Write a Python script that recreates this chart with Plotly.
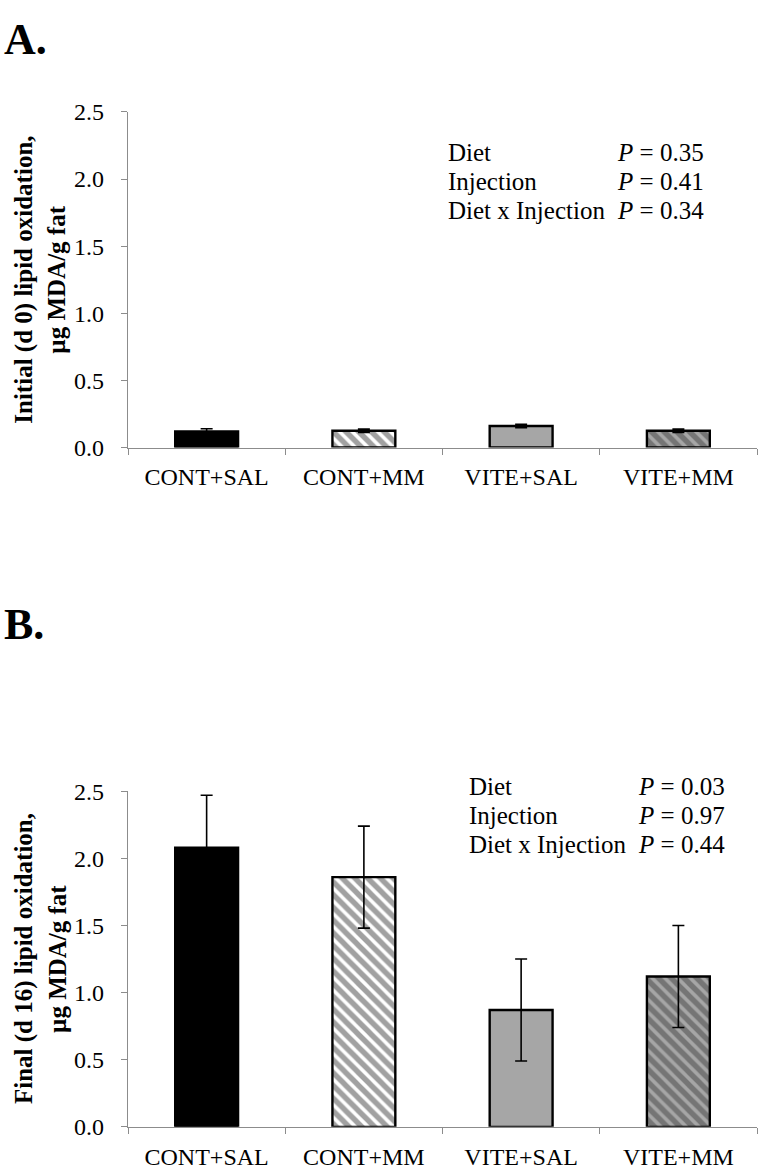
import plotly.graph_objects as go

W, H = 760, 1181
# the screenshot maps page y to picture y as 12 + 0.979 * y; place items in picture coordinates
Y0, SY = 12.0, 0.979

categories = ["CONT+SAL", "CONT+MM", "VITE+SAL", "VITE+MM"]
initial_means = [0.12, 0.125, 0.16, 0.125]
initial_sem = [0.02, 0.012, 0.013, 0.012]
final_means = [2.08, 1.86, 0.87, 1.12]
final_sem = [0.39, 0.38, 0.38, 0.38]
tick_vals = [0.0, 0.5, 1.0, 1.5, 2.0, 2.5]
stats_labels = ["Diet", "Injection", "Diet x Injection"]
initial_p = ["0.35", "0.41", "0.34"]
final_p = ["0.03", "0.97", "0.44"]

fill_colors = ["#000000", "#ffffff", "#a6a6a6", "#a6a6a6"]
pattern_shapes = ["", "\\", "", "\\"]

FONT = "Liberation Serif"

def px(x):
    return x / W

def py(y):
    return 1 - ((y - Y0) / SY) / H

fig = go.Figure()

def add_bars(means, sem, xa, ya):
    fig.add_trace(go.Bar(
        x=categories, y=means, xaxis=xa, yaxis=ya, width=0.4,
        marker=dict(
            color=fill_colors,
            line=dict(color="black", width=2.4),
            pattern=dict(shape=pattern_shapes, fgcolor="black", size=9,
                         solidity=0.6, fillmode="overlay"),
        ),
        error_y=dict(type="data", array=sem, color="black", thickness=1.6, width=6),
        showlegend=False,
    ))

add_bars(initial_means, initial_sem, "x", "y")
add_bars(final_means, final_sem, "x2", "y2")

x_dom = [px(128), px(757)]
axis_common = dict(showgrid=False, zeroline=False, showline=True, linecolor="#8c8c8c",
                   linewidth=1.2, ticks="outside", tickcolor="#8c8c8c", ticklen=6)

xa = dict(axis_common, type="category", tickson="boundaries", range=[-0.5, 3.5],
          domain=x_dom, ticklabelstandoff=8,
          tickfont=dict(family=FONT, size=24, color="black"))
ya = dict(axis_common, range=[0, 2.5], tickvals=tick_vals, tickformat=".1f",
          ticklabelstandoff=12, tickfont=dict(family=FONT, size=24, color="black"))

fig.update_layout(
    width=W, height=H, margin=dict(l=0, r=0, t=0, b=0),
    plot_bgcolor="white", paper_bgcolor="white",
    xaxis=dict(xa, anchor="y"),
    yaxis=dict(ya, domain=[py(447), py(111)], anchor="x"),
    xaxis2=dict(xa, anchor="y2"),
    yaxis2=dict(ya, domain=[py(1127), py(791)], anchor="x2"),
    bargap=0.6,
)

ann = []
ann.append(dict(text="<b>A.</b>", x=px(2), y=1, xanchor="left", yanchor="top",
                font=dict(family=FONT, size=44, color="black")))
ann.append(dict(text="<b>B.</b>", x=px(2), y=py(624), xanchor="left", yanchor="middle",
                font=dict(family=FONT, size=44, color="black")))

for line1, ymid in [("Initial (d 0) lipid oxidation,", 279), ("Final (d 16) lipid oxidation,", 959)]:
    ann.append(dict(text="<b>" + line1 + "</b>", x=px(24), y=py(ymid), textangle=-90,
                    xanchor="center", yanchor="middle",
                    font=dict(family=FONT, size=25, color="black")))
    ann.append(dict(text="<b>µg MDA/g fat</b>", x=px(57), y=py(ymid), textangle=-90,
                    xanchor="center", yanchor="middle",
                    font=dict(family=FONT, size=25, color="black")))

for pvals, y0, xl, xr in [(initial_p, 152, 446, 706), (final_p, 786, 467, 727)]:
    for i, (lab, pv) in enumerate(zip(stats_labels, pvals)):
        yy = y0 + i * 29
        ann.append(dict(text=lab, x=px(xl), y=py(yy), xanchor="left", yanchor="middle",
                        font=dict(family=FONT, size=25, color="black")))
        ann.append(dict(text="<i>P</i> = " + pv, x=px(xr), y=py(yy), xanchor="right",
                        yanchor="middle", font=dict(family=FONT, size=25, color="black")))

for a in ann:
    a.update(xref="paper", yref="paper", showarrow=False)
fig.update_layout(annotations=ann)

fig.write_html("out.html", config={"displayModeBar": False},
               post_script="document.body.style.margin='0';")
